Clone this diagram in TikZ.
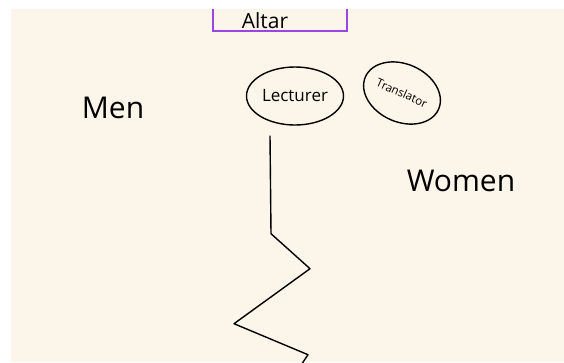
\documentclass[tikz,border=0pt]{standalone}
\usepackage{fontspec}
\setmainfont{Open Sans}
\usetikzlibrary{shapes.geometric,positioning}
\definecolor{paper}{HTML}{FCF5EA}
\definecolor{altarline}{HTML}{9B45E4}

\begin{document}
\begin{tikzpicture}[x=1pt, y=-1pt,
    seat/.style={draw, ellipse, line width=1.4pt, inner sep=0pt},
    side/.style={font=\fontsize{30}{30}\selectfont},
    aisleline/.style={line width=1.4pt, line join=round}]
    \useasboundingbox (0,0) rectangle (564,362);
    \fill[paper] (11,9) rectangle (564,362);

    % altar at the front
    \node[inner sep=0pt, font=\fontsize{21}{21}\selectfont] (altar) at (265,21) {Altar};
    \draw[altarline, line width=1.5pt] (213,9) -- (213,31) -- (347,31) -- (347,9);

    \node[seat, minimum width=97pt, minimum height=58pt, font=\fontsize{17}{17}\selectfont] (lecturer) at (295,96) {Lecturer};
    \node[seat, minimum width=80pt, minimum height=58pt, rotate=-24, font=\fontsize{11.5}{12}\selectfont] (translator) at (402,93) {Translator};

    \node[side] (men) at (113,108) {Men};
    \node[side] (women) at (461,181) {Women};

    % aisle between the two sides
    \coordinate[below left=10pt and 25pt of lecturer.south] (aisle);
    \draw[aisleline] (aisle) -- ++(1,98) -- ++(39,35) -- ++(-76,55) -- ++(74,31) -- ++(-6,9);
\end{tikzpicture}
\end{document}
